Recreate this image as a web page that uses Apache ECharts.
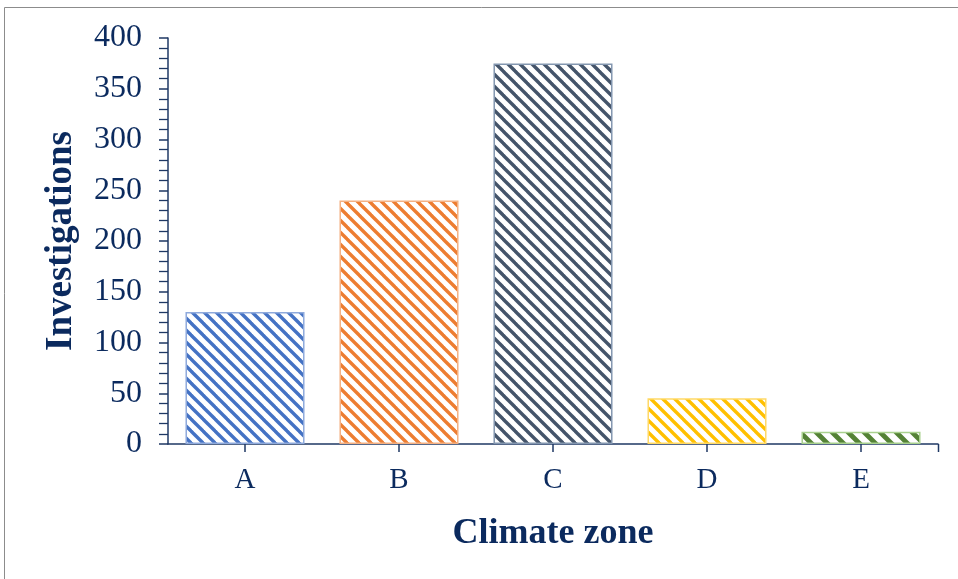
<!DOCTYPE html>
<html>
<head>
<meta charset="utf-8">
<script src="https://cdn.jsdelivr.net/npm/echarts@6/dist/echarts.min.js"></script>
<style>
  html, body { margin: 0; padding: 0; background: #fff; }
  #chart { width: 958px; height: 579px; }
</style>
</head>
<body>
<div id="chart"></div>
<script>
// Investigations per climate zone
const zones = ['A', 'B', 'C', 'D', 'E'];
const investigations = [130, 240, 375, 45, 12];
const fillColors = ['#4472C4', '#ED7D31', '#44546A', '#FFC000', '#548235'];
const edgeColors = ['#8FAADC', '#F4B183', '#8497B0', '#FFD966', '#A9D18E'];
const yTicks = [0, 50, 100, 150, 200, 250, 300, 350, 400];

const navy = '#0B2A5E';
const serif = '"Liberation Serif", "Times New Roman", serif';

// Diagonal hatch tile ("\" direction)
function hatch(color, size, width) {
  const c = document.createElement('canvas');
  c.width = size; c.height = size;
  const ctx = c.getContext('2d');
  ctx.strokeStyle = color;
  ctx.lineWidth = width;
  for (let k = -1; k <= 1; k++) {
    ctx.beginPath();
    ctx.moveTo(k * size - 1, -1);
    ctx.lineTo(k * size + size + 1, size + 1);
    ctx.stroke();
  }
  return { image: c, repeat: 'repeat' };
}

const tileSizes = [12, 12, 12, 12, 16];
const tileWidths = [3.4, 3.4, 3.4, 3.4, 4.8];

const chart = echarts.init(document.getElementById('chart'), null, { renderer: 'canvas' });

chart.setOption({
  animation: false,
  backgroundColor: '#fff',
  grid: { left: 168, top: 38, right: 20, bottom: 135, containLabel: false },
  graphic: [{
    type: 'rect',
    shape: { x: 4.5, y: 7.5, width: 1000, height: 600 },
    style: { fill: 'none', stroke: '#8C8C8C', lineWidth: 1 },
    silent: true, z: -10
  }],
  xAxis: {
    type: 'category',
    data: zones,
    name: 'Climate zone',
    nameLocation: 'middle',
    nameGap: 72,
    nameTextStyle: { fontFamily: serif, fontSize: 36, fontWeight: 'bold', color: navy },
    axisLine: { lineStyle: { color: '#1F3864', width: 1.5 } },
    axisTick: { show: true, alignWithLabel: true, length: 8, lineStyle: { color: '#1F3864', width: 1.5 } },
    axisLabel: { fontFamily: serif, fontSize: 29, color: navy, margin: 22 }
  },
  yAxis: {
    type: 'value',
    min: 0, max: 400, interval: 50,
    name: 'Investigations',
    nameLocation: 'middle',
    nameGap: 88,
    nameRotate: 90,
    nameTextStyle: { fontFamily: serif, fontSize: 37, fontWeight: 'bold', color: navy },
    axisLine: { show: true, lineStyle: { color: '#1F3864', width: 1.5 } },
    axisTick: { show: true, length: 9, lineStyle: { color: '#1F3864', width: 1.5 } },
    minorTick: { show: true, splitNumber: 5, length: 9, lineStyle: { color: '#1F3864', width: 1.3 } },
    splitLine: { show: false },
    axisLabel: {
      fontFamily: serif, fontSize: 32, color: navy, margin: 26,
      formatter: v => (yTicks.includes(v) ? String(v) : '')
    }
  },
  series: [{
    type: 'bar',
    barCategoryGap: '22.7%',
    data: investigations.map((v, i) => ({
      value: v,
      itemStyle: {
        color: hatch(fillColors[i], tileSizes[i], tileWidths[i]),
        borderColor: edgeColors[i],
        borderWidth: 1.5
      }
    }))
  }]
});

// Closing tick at the right end of the category axis
const lastCenter = chart.convertToPixel({ gridIndex: 0 }, [zones.length - 1, 0]);
const prevCenter = chart.convertToPixel({ gridIndex: 0 }, [zones.length - 2, 0]);
const endX = Math.round(lastCenter[0] + (lastCenter[0] - prevCenter[0]) / 2) + 0.5;
chart.setOption({
  graphic: [{}, {
    type: 'line',
    shape: { x1: endX, y1: lastCenter[1], x2: endX, y2: lastCenter[1] + 8 },
    style: { stroke: '#1F3864', lineWidth: 1.5 },
    silent: true
  }]
});
</script>
</body>
</html>
